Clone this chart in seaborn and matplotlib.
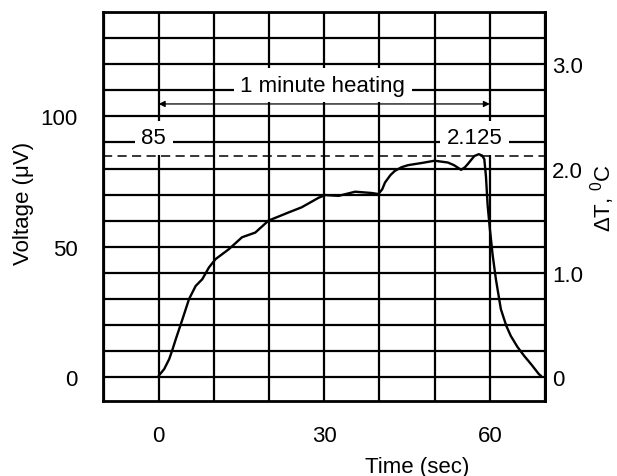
import numpy as np
import matplotlib
matplotlib.use("Agg")
import matplotlib.pyplot as plt
import seaborn as sns

# Кривая нагрева (время, сек / напряжение, мкВ)
time_sec = [0, 1.0, 1.9, 2.5, 3.1, 4.3, 5.5, 6.7, 7.9, 9.1, 10.3, 12.7, 15.1,
            17.5, 19.9, 23.5, 25.9, 29, 30.2, 32.6, 35.6, 38.6, 39.8, 40.5,
            41, 42, 42.8, 44, 45.2, 47.6, 50, 52.4, 53.5, 54.8, 55.5, 56,
            57.2, 58, 58.6, 59, 59.3, 59.6, 60, 60.5, 61.1, 62, 63, 63.8, 65,
            66.2, 67.5, 68.9, 69.3]
voltage_uv = [0.4, 3, 6.8, 10.5, 14.5, 22.1, 29.9, 34.9, 37.5, 42, 45.2, 49,
              53.6, 55.4, 60, 63.1, 65.1, 68.8, 69.8, 69.5, 71.1, 70.6, 70.2,
              72, 74.6, 77.5, 79.1, 80.5, 81.3, 82.1, 83, 82.3, 81.3, 79.5,
              80.5, 81.7, 84.8, 85.5, 85, 83.6, 77, 66, 57, 47, 37.5, 26, 19.5,
              15.7, 11.5, 8.1, 4.8, 1, 0.3]

# Подписи осей
x_ticks = [0, 30, 60]
y_ticks = [0, 50, 100]
dt_ticks = [0, 1.0, 2.0, 3.0]
dt_tick_labels = ["0", "1.0", "2.0", "3.0"]
x_grid = list(range(-10, 71, 10))
y_grid = list(range(0, 141, 10))

# Уровень 85 мкВ = 2.125 C
level_uv = 85
level_dt = 2.125
heat_start = 0
heat_end = 60
uv_per_deg = 40

sns.set_theme(style="white")
plt.rcParams["font.family"] = ["Liberation Sans", "DejaVu Sans"]
plt.rcParams["mathtext.fontset"] = "custom"
plt.rcParams["mathtext.rm"] = "Liberation Sans"

fig, ax = plt.subplots(figsize=(6.17, 4.77), dpi=100)
fig.subplots_adjust(left=0.1669, right=0.8833, bottom=0.1572, top=0.9721)

sns.lineplot(x=time_sec, y=voltage_uv, color="black", lw=1.7, ax=ax,
             sort=False, zorder=6)

ax.axhline(level_uv, color="black", lw=1.1, dashes=(6, 3.5), zorder=6)

ax.set_xlim(-10.1, 69.5)
ax.set_ylim(-9.3, 140)

ax.set_xticks(x_grid, minor=True)
ax.set_yticks(y_grid, minor=True)
ax.set_xticks(x_ticks, labels=[str(v) for v in x_ticks])
ax.set_yticks(y_ticks, labels=[str(v) for v in y_ticks])
ax.grid(True, which="both", color="black", lw=1.6)
ax.set_axisbelow(True)
ax.tick_params(which="both", length=0, labelsize=16, colors="black")
ax.tick_params(axis="y", pad=18)
ax.tick_params(axis="x", pad=17)

for s in ax.spines.values():
    s.set_color("black")
    s.set_linewidth(2)

ax.set_xlabel("Time (sec)", fontsize=16, color="black")
ax.xaxis.set_label_coords(0.71, -0.142)
ax.xaxis.label.set_va("top")
ax.set_ylabel("Voltage (μV)", fontsize=16, color="black")
ax.yaxis.set_label_coords(-0.155, 0.512)

# Правая шкала: дельта T
secax = ax.secondary_yaxis("right", functions=(lambda v: v / uv_per_deg,
                                                lambda t: t * uv_per_deg))
secax.set_yticks(dt_ticks, labels=dt_tick_labels)
secax.tick_params(length=0, pad=5, labelsize=16, colors="black")
secax.spines["right"].set_linewidth(2)
secax.spines["right"].set_color("black")
secax.set_ylabel("ΔT, $^{\\mathrm{0}}$C", fontsize=16, color="black")
secax.yaxis.set_label_coords(1.098, 0.525, transform=ax.transAxes)

# Стрелка "1 minute heating"
ax.annotate("", xy=(heat_start, 104.8), xytext=(heat_end, 104.8),
            arrowprops=dict(arrowstyle="<|-|>", color="black", lw=0.9,
                            mutation_scale=9, shrinkA=0, shrinkB=0),
            zorder=4)
ax.text(29.7, 112, "1 minute heating", fontsize=16, ha="center", va="center",
        color="black", zorder=5,
        bbox=dict(boxstyle="square,pad=0.3", fc="white", ec="none"))

ax.text(-0.9, 91.8, str(level_uv), fontsize=16, ha="center", va="center",
        color="black", zorder=5,
        bbox=dict(boxstyle="square,pad=0.3", fc="white", ec="none"))
ax.text(57.3, 91.8, str(level_dt), fontsize=16, ha="center", va="center",
        color="black", zorder=5,
        bbox=dict(boxstyle="square,pad=0.3", fc="white", ec="none"))

plt.savefig("out.png", dpi=100)
